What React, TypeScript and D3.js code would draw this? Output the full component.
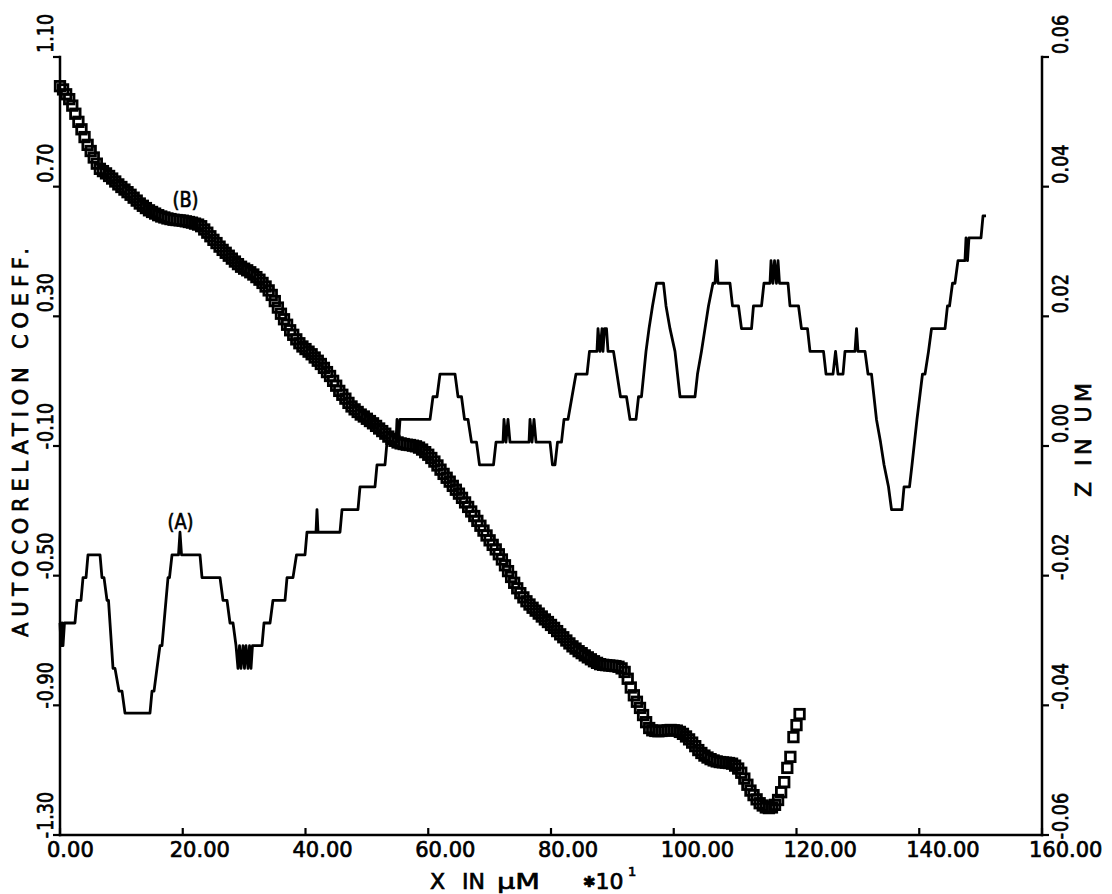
import React from "react";
import * as d3 from "d3";

// ---------- axis ticks ----------
const X_TICKS = [0, 20, 40, 60, 80, 100, 120, 140, 160];
const X_TICK_LABELS = ["0.00", "20.00", "40.00", "60.00", "80.00", "100.00", "120.00", "140.00", "160.00"];
const LEFT_TICKS = [1.1, 0.7, 0.3, -0.1, -0.5, -0.9, -1.3];
const LEFT_TICK_LABELS = ["1.10", "0.70", "0.30", "-0.10", "-0.50", "-0.90", "-1.30"];
const RIGHT_TICKS = [0.06, 0.04, 0.02, 0, -0.02, -0.04, -0.06];
const RIGHT_TICK_LABELS = ["0.06", "0.04", "0.02", "0.00", "-0.02", "-0.04", "-0.06"];

// ---------- curve (B): autocorrelation coefficient, lag step 0.5 (x10 um) ----------
const ACF_LAG_STEP = 0.5;
const acfValues = [
  1.010, 1.000, 0.985, 0.970, 0.950, 0.925, 0.900, 0.877, 0.853, 0.829,
  0.810, 0.790, 0.771, 0.755, 0.748, 0.741, 0.733, 0.725, 0.716, 0.707,
  0.699, 0.691, 0.683, 0.675, 0.666, 0.657, 0.648, 0.641, 0.634, 0.627,
  0.622, 0.617, 0.612, 0.608, 0.605, 0.602, 0.600, 0.598, 0.597, 0.596,
  0.595, 0.593, 0.591, 0.589, 0.586, 0.583, 0.578, 0.568, 0.558, 0.547,
  0.536, 0.526, 0.515, 0.505, 0.496, 0.487, 0.478, 0.469, 0.461, 0.453,
  0.447, 0.442, 0.436, 0.429, 0.421, 0.413, 0.403, 0.392, 0.380, 0.366,
  0.347, 0.327, 0.308, 0.291, 0.274, 0.257, 0.243, 0.229, 0.217, 0.207,
  0.199, 0.191, 0.183, 0.173, 0.163, 0.153, 0.141, 0.128, 0.116, 0.101,
  0.086, 0.070, 0.058, 0.046, 0.033, 0.022, 0.013, 0.005, -0.003, -0.009,
  -0.016, -0.023, -0.030, -0.038, -0.046, -0.054, -0.062, -0.071, -0.078, -0.084,
  -0.089, -0.092, -0.094, -0.096, -0.097, -0.099, -0.101, -0.105, -0.111, -0.119,
  -0.127, -0.137, -0.148, -0.160, -0.173, -0.186, -0.198, -0.210, -0.223, -0.235,
  -0.247, -0.260, -0.274, -0.288, -0.302, -0.316, -0.331, -0.346, -0.361, -0.376,
  -0.391, -0.405, -0.419, -0.434, -0.450, -0.468, -0.486, -0.504, -0.522, -0.539,
  -0.554, -0.567, -0.579, -0.589, -0.599, -0.608, -0.617, -0.626, -0.635, -0.643,
  -0.652, -0.661, -0.671, -0.681, -0.690, -0.700, -0.709, -0.718, -0.725, -0.733,
  -0.739, -0.746, -0.752, -0.758, -0.764, -0.769, -0.773, -0.775, -0.776, -0.777,
  -0.778, -0.779, -0.781, -0.786, -0.797, -0.818, -0.845, -0.869, -0.889, -0.908,
  -0.930, -0.952, -0.970, -0.977, -0.979, -0.980, -0.979, -0.978, -0.977, -0.976,
  -0.977, -0.978, -0.982, -0.988, -0.996, -1.005, -1.015, -1.026, -1.038, -1.047,
  -1.055, -1.061, -1.066, -1.070, -1.073, -1.075, -1.076, -1.077, -1.078, -1.080,
  -1.086, -1.095, -1.108, -1.126, -1.145, -1.163, -1.177, -1.190, -1.202, -1.209,
  -1.215, -1.217, -1.215, -1.207, -1.192, -1.168, -1.137, -1.093, -1.059, -0.998,
  -0.961, -0.927,
];

// ---------- curve (A): surface profile Z (um) vs X (x10 um) ----------
const profileX = [
  0, 0.16, 0.33, 0.49, 0.73, 2.44, 2.77, 3.42, 3.75, 4.24,
  4.56, 6.52, 6.84, 7.17, 7.66, 7.90, 8.64, 8.96, 9.61, 10.10,
  10.59, 14.66, 14.99, 15.32, 15.80, 16.29, 16.62, 17.27, 17.60, 17.84,
  18.25, 19.31, 19.55, 19.80, 22.81, 23.14, 26.07, 26.56, 27.21, 27.70,
  28.19, 28.68, 29.00, 29.25, 29.49, 29.82, 30.06, 30.31, 30.63, 30.88,
  31.12, 31.36, 32.91, 33.24, 34.22, 34.70, 36.66, 36.99, 37.96, 38.53,
  39.92, 40.24, 41.71, 41.87, 42.04, 45.62, 45.95, 48.55, 48.88, 51.32,
  51.65, 52.95, 53.28, 54.75, 54.91, 55.15, 55.40, 60.29, 60.77, 61.43,
  61.91, 64.36, 64.85, 65.42, 65.91, 66.48, 67.05, 67.86, 68.35, 70.63,
  71.04, 72.18, 72.34, 72.67, 72.99, 73.32, 76.42, 76.58, 76.91, 77.23,
  77.56, 79.84, 80.24, 80.65, 81.06, 81.71, 82.12, 82.77, 83.42, 84.07,
  85.87, 86.27, 87.49, 87.66, 87.98, 88.31, 88.47, 88.72, 89.04, 89.29,
  90.18, 90.75, 91.32, 92.30, 92.87, 93.85, 94.26, 94.74, 95.48, 95.97,
  96.54, 97.19, 98.33, 98.74, 99.39, 100.20, 101.02, 103.46, 103.87, 104.52,
  105.09, 105.66, 106.39, 106.72, 106.97, 107.21, 109.16, 109.57, 110.55, 111.04,
  112.67, 112.99, 114.30, 114.70, 115.68, 115.85, 116.17, 116.42, 116.74, 116.99,
  117.23, 118.62, 118.94, 120.33, 120.81, 121.79, 122.20, 124.40, 124.81, 125.95,
  126.36, 126.76, 127.58, 127.90, 129.53, 129.78, 130.02, 131.16, 131.65, 132.22,
  133.03, 133.69, 134.26, 134.99, 135.48, 137.19, 137.52, 138.41, 138.82, 139.63,
  140.53, 140.94, 141.51, 142.00, 144.20, 144.60, 144.93, 145.42, 145.82, 146.31,
  147.45, 147.62, 147.86, 148.10, 150.06, 150.39, 150.88,
];
const profileZ = [
  -0.0273, -0.0308, -0.0273, -0.0308, -0.0273, -0.0273, -0.0238, -0.0238, -0.0203, -0.0203,
  -0.0168, -0.0168, -0.0203, -0.0203, -0.0238, -0.0238, -0.0343, -0.0343, -0.0378, -0.0378,
  -0.0412, -0.0412, -0.0378, -0.0378, -0.0343, -0.0308, -0.0308, -0.0238, -0.0203, -0.0203,
  -0.0168, -0.0168, -0.0133, -0.0168, -0.0168, -0.0203, -0.0203, -0.0238, -0.0238, -0.0273,
  -0.0273, -0.0308, -0.0343, -0.0308, -0.0343, -0.0308, -0.0343, -0.0308, -0.0343, -0.0308,
  -0.0343, -0.0308, -0.0308, -0.0273, -0.0273, -0.0238, -0.0238, -0.0203, -0.0203, -0.0168,
  -0.0168, -0.0133, -0.0133, -0.0098, -0.0133, -0.0133, -0.0098, -0.0098, -0.0063, -0.0063,
  -0.0029, -0.0029, 0.0006, 0.0006, 0.0041, 0.0006, 0.0041, 0.0041, 0.0076, 0.0076,
  0.0111, 0.0111, 0.0076, 0.0076, 0.0041, 0.0041, 0.0006, 0.0006, -0.0029, -0.0029,
  0.0006, 0.0006, 0.0041, 0.0006, 0.0041, 0.0006, 0.0006, 0.0041, 0.0006, 0.0041,
  0.0006, 0.0006, -0.0029, -0.0029, 0.0006, 0.0006, 0.0041, 0.0041, 0.0076, 0.0111,
  0.0111, 0.0146, 0.0146, 0.0181, 0.0146, 0.0181, 0.0146, 0.0181, 0.0181, 0.0146,
  0.0146, 0.0111, 0.0076, 0.0076, 0.0041, 0.0041, 0.0076, 0.0076, 0.0146, 0.0181,
  0.0216, 0.0251, 0.0251, 0.0216, 0.0181, 0.0146, 0.0076, 0.0076, 0.0111, 0.0146,
  0.0181, 0.0216, 0.0251, 0.0251, 0.0286, 0.0251, 0.0251, 0.0216, 0.0216, 0.0181,
  0.0181, 0.0216, 0.0216, 0.0251, 0.0251, 0.0286, 0.0251, 0.0286, 0.0251, 0.0286,
  0.0251, 0.0251, 0.0216, 0.0216, 0.0181, 0.0181, 0.0146, 0.0146, 0.0111, 0.0111,
  0.0146, 0.0111, 0.0111, 0.0146, 0.0146, 0.0181, 0.0146, 0.0146, 0.0111, 0.0111,
  0.0041, 0.0006, -0.0029, -0.0063, -0.0098, -0.0098, -0.0063, -0.0063, -0.0029, 0.0041,
  0.0111, 0.0111, 0.0146, 0.0181, 0.0181, 0.0216, 0.0216, 0.0251, 0.0251, 0.0286,
  0.0286, 0.0321, 0.0286, 0.0321, 0.0321, 0.0355, 0.0355,
];

const FONT = "DejaVu Sans";
const TXT_STROKE = 0.7;

function VLabel({ x0, y0, label }: { x0: number; y0: number; label: string }) {
  const neg = label.startsWith("-");
  const num = neg ? label.slice(1) : label;
  return (
    <g transform={`translate(${x0},${y0}) rotate(-90) scale(0.86,1)`}>
      <text x={0} y={0} fontSize={20.5} textAnchor="start">{num}</text>
      {neg && (
        <text x={-1} y={0} fontSize={20.5} textAnchor="end">-</text>
      )}
    </g>
  );
}

export default function App() {
  const W = 1112;
  const H = 894;
  const left = 60, right = 1042, top = 57, bottom = 835;

  const x = d3.scaleLinear().domain([0, 160]).range([left, right]);
  const yL = d3.scaleLinear().domain([-1.3, 1.1]).range([bottom, top]);
  const yR = d3.scaleLinear().domain([-0.06, 0.06]).range([bottom, top]);

  const profilePts: [number, number][] = profileX.map((v, i) => [v, profileZ[i]]);
  const profileLine = d3
    .line<[number, number]>()
    .x((d) => x(d[0]))
    .y((d) => yR(d[1]));
  const pathA = profileLine(profilePts) || "";

  const acfPts = acfValues.map((v, i) => ({ lag: i * ACF_LAG_STEP, r: v }));
  const sq = 9.5;

  return (
    <svg
      width={W}
      height={H}
      style={{ position: "absolute", left: 0, top: 0, background: "#fff" }}
      fontFamily={FONT}
      fill="#000"
    >
      <rect x={0} y={0} width={W} height={H} fill="#fff" />

      {/* axes frame */}
      <g stroke="#000" strokeWidth={2.5} fill="none" strokeLinecap="square">
        <line x1={left} y1={top} x2={left} y2={bottom} />
        <line x1={right} y1={top} x2={right} y2={bottom} />
        <line x1={left} y1={bottom} x2={right} y2={bottom} />
      </g>

      {/* ticks */}
      <g stroke="#000" strokeWidth={2.2}>
        {LEFT_TICKS.map((t) => (
          <line key={"lt" + t} x1={left - 7} x2={left} y1={yL(t)} y2={yL(t)} />
        ))}
        {RIGHT_TICKS.map((t) => (
          <line key={"rt" + t} x1={right} x2={right + 7} y1={yR(t)} y2={yR(t)} />
        ))}
        {X_TICKS.map((t) => (
          <line key={"bt" + t} x1={x(t)} x2={x(t)} y1={bottom} y2={bottom - 7} />
        ))}
      </g>

      <g stroke="#000" strokeWidth={TXT_STROKE}>
        {/* left tick labels */}
        {LEFT_TICKS.map((t, i) => (
          <VLabel key={"ll" + t} x0={53} y0={yL(t) - 4} label={LEFT_TICK_LABELS[i]} />
        ))}
        {/* right tick labels */}
        {RIGHT_TICKS.map((t, i) => (
          <VLabel key={"rl" + t} x0={1068} y0={yR(t) - 3} label={RIGHT_TICK_LABELS[i]} />
        ))}
        {/* bottom tick labels */}
        {X_TICKS.map((t, i) => (
          <text key={"bl" + t} x={x(t) - 13} y={857} fontSize={21} textAnchor="start">
            {X_TICK_LABELS[i]}
          </text>
        ))}

        {/* axis titles */}
        <g transform={`translate(28,637) rotate(-90)`}>
          <text x={0} y={0} fontSize={21} textLength={389} lengthAdjust="spacing">
            AUTOCORELATION COEFF.
          </text>
        </g>
        <g transform={`translate(1091,497) rotate(-90)`}>
          <text x={0} y={0} fontSize={22} textLength={114} lengthAdjust="spacing">
            Z IN UM
          </text>
        </g>
        <text x={430} y={889} fontSize={22}>X</text>
        <text x={462} y={889} fontSize={22}>IN</text>
        <g transform="translate(497,889) scale(1.3,1)">
          <text x={0} y={0} fontSize={22}>μM</text>
        </g>
        <text x={583} y={889} fontSize={22}>
          <tspan fontSize={15} dy={-2}>✱</tspan>
          <tspan dy={2}>10</tspan>
        </text>
        <text x={628} y={876} fontSize={13}>1</text>

        {/* curve labels */}
        <g transform="translate(185.5,207) scale(0.85,1)">
          <text x={0} y={0} fontSize={21} textAnchor="middle">(B)</text>
        </g>
        <g transform="translate(180.5,529) scale(0.85,1)">
          <text x={0} y={0} fontSize={21} textAnchor="middle">(A)</text>
        </g>
      </g>

      {/* curve A */}
      <path d={pathA} fill="none" stroke="#000" strokeWidth={2.8} strokeLinejoin="round" />

      {/* curve B: square markers */}
      <g fill="none" stroke="#000" strokeWidth={2.8}>
        {acfPts.map((p, i) => (
          <rect key={"b" + i} x={x(p.lag) - sq / 2} y={yL(p.r) - sq / 2} width={sq} height={sq} />
        ))}
      </g>
    </svg>
  );
}
